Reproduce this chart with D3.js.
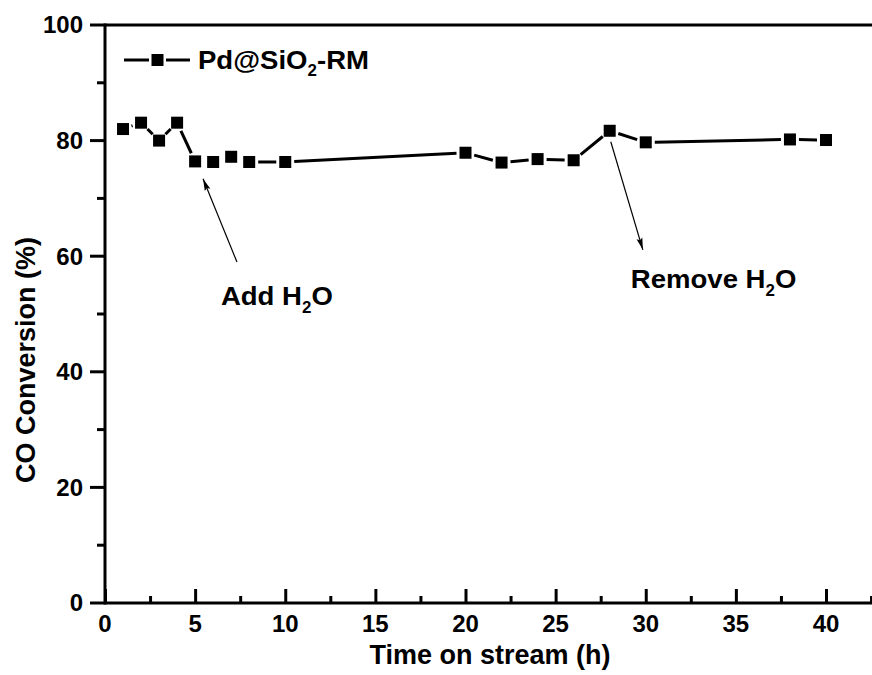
<!DOCTYPE html>
<html>
<head>
<meta charset="utf-8">
<script src="https://cdn.jsdelivr.net/npm/d3@7"></script>
<style>
  html, body { margin: 0; padding: 0; background: #fff; }
  svg { display: block; font-family: "Liberation Sans", Arial, sans-serif; font-weight: bold; }
</style>
</head>
<body>
<svg id="chart" width="872" height="675"></svg>
<script>
// ---- data ----
const seriesName = "Pd@SiO2-RM";
const timeH = [1, 2, 3, 4, 5, 6, 7, 8, 10, 20, 22, 24, 26, 28, 30, 38, 40];
const conversion = [82.0, 83.1, 80.0, 83.1, 76.4, 76.3, 77.2, 76.3, 76.3, 77.9, 76.2, 76.8, 76.6, 81.7, 79.7, 80.2, 80.1];
const xTicks = [0, 5, 10, 15, 20, 25, 30, 35, 40];
const yTicks = [0, 20, 40, 60, 80, 100];
const xTitle = "Time on stream (h)";
const yTitle = "CO Conversion (%)";
// annotations in data units
const annoTextAdd = { t: 6.43, v: 51.6, pre: "Add H", sub: "2", post: "O" };
const annoTextRemove = { t: 29.17, v: 54.5, pre: "Remove H", sub: "2", post: "O" };
const arrowAdd = { from: [7.32, 59.0], to: [5.44, 73.4] };
const arrowRemove = { from: [28.06, 79.8], to: [29.84, 61.1] };

// ---- layout ----
const svg = d3.select("#chart");
const x = d3.scaleLinear().domain([0, 45]).range([105, 105 + 45 * 18.025]);
const y = d3.scaleLinear().domain([0, 100]).range([603, 25]);

svg.append("defs").append("marker")
  .attr("id", "ah").attr("viewBox", "0 0 12 10").attr("refX", 12).attr("refY", 5)
  .attr("markerWidth", 12).attr("markerHeight", 10).attr("markerUnits", "userSpaceOnUse")
  .attr("orient", "auto")
  .append("path").attr("d", "M0,2 L12,5 L0,8 L2,5 Z").attr("fill", "#000");

// axes
const xAxis = d3.axisBottom(x).tickValues(d3.range(0, 45.1, 2.5))
  .tickSize(0).tickFormat("");
const gx = svg.append("g").attr("transform", `translate(0,${y(0)})`).call(xAxis);
gx.select(".domain").remove();
gx.selectAll(".tick line").remove();
gx.selectAll(".tick").append("line")
  .attr("y1", 0).attr("y2", d => (d % 5 === 0 ? -14 : -7))
  .attr("stroke", "#000").attr("stroke-width", 3);
svg.append("g").selectAll("text").data(xTicks).join("text")
  .attr("x", d => x(d)).attr("y", 632).attr("text-anchor", "middle")
  .attr("font-size", 24).text(d => d);

const gy = svg.append("g").attr("transform", `translate(${x(0)},0)`);
gy.selectAll("line.tk").data(d3.range(0, 100.1, 10)).join("line")
  .attr("class", "tk")
  .attr("x1", d => (d % 20 === 0 ? -15 : -8)).attr("x2", 0)
  .attr("y1", d => y(d)).attr("y2", d => y(d))
  .attr("stroke", "#000").attr("stroke-width", 3);
gy.selectAll("text").data(yTicks).join("text")
  .attr("x", -22).attr("y", d => y(d)).attr("dy", "0.35em")
  .attr("text-anchor", "end").attr("font-size", 24).text(d => d);

// frame lines
svg.append("line").attr("x1", x(0)).attr("x2", x(45)).attr("y1", y(0)).attr("y2", y(0))
  .attr("stroke", "#000").attr("stroke-width", 3);
svg.append("line").attr("x1", x(0)).attr("x2", x(45)).attr("y1", y(100)).attr("y2", y(100))
  .attr("stroke", "#000").attr("stroke-width", 3);
svg.append("line").attr("x1", x(0)).attr("x2", x(0)).attr("y1", y(0) + 1.5).attr("y2", y(100) - 1.5)
  .attr("stroke", "#000").attr("stroke-width", 3);

// titles
svg.append("text").attr("x", 490).attr("y", 664).attr("text-anchor", "middle")
  .attr("font-size", 27).text(xTitle);
svg.append("text").attr("transform", "translate(35,360) rotate(-90)")
  .attr("text-anchor", "middle").attr("font-size", 27).text(yTitle);

// data line with gaps around markers
const pts = timeH.map((t, i) => [x(t), y(conversion[i])]);
const gap = 9;
const segs = [];
for (let i = 0; i < pts.length - 1; i++) {
  const [x0, y0] = pts[i], [x1, y1] = pts[i + 1];
  const L = Math.hypot(x1 - x0, y1 - y0);
  if (L > 2 * gap + 1) {
    const ux = (x1 - x0) / L, uy = (y1 - y0) / L;
    segs.push([[x0 + ux * gap, y0 + uy * gap], [x1 - ux * gap, y1 - uy * gap]]);
  }
}
svg.append("g").selectAll("path").data(segs).join("path")
  .attr("d", d => d3.line()(d)).attr("stroke", "#000").attr("stroke-width", 3).attr("fill", "none");
const ms = 12;
svg.append("g").selectAll("rect").data(timeH).join("rect")
  .attr("x", (d, i) => x(d) - ms / 2).attr("y", (d, i) => y(conversion[i]) - ms / 2)
  .attr("width", ms).attr("height", ms).attr("fill", "#000");

// legend
const lg = svg.append("g").attr("transform", "translate(0,60)");
lg.append("line").attr("x1", 124).attr("x2", 149).attr("y1", 0).attr("y2", 0).attr("stroke", "#000").attr("stroke-width", 3);
lg.append("line").attr("x1", 166).attr("x2", 190).attr("y1", 0).attr("y2", 0).attr("stroke", "#000").attr("stroke-width", 3);
lg.append("rect").attr("x", 157.5 - ms / 2).attr("y", -ms / 2).attr("width", ms).attr("height", ms).attr("fill", "#000");
const lt = lg.append("text").attr("x", 198).attr("y", 9).attr("font-size", 26)
  .attr("transform", "translate(198,0) scale(1.06,1) translate(-198,0)");
lt.append("tspan").text("Pd@SiO");
lt.append("tspan").attr("font-size", 16).attr("dy", 7).text("2");
lt.append("tspan").attr("dy", -7).text("-RM");

// annotations
function annoText(a) {
  const x0 = x(a.t);
  const t = svg.append("text").attr("x", x0).attr("y", y(a.v)).attr("font-size", 26)
    .attr("transform", `translate(${x0},0) scale(1.06,1) translate(${-x0},0)`);
  t.append("tspan").text(a.pre);
  t.append("tspan").attr("font-size", 16).attr("dy", 8).text(a.sub);
  t.append("tspan").attr("dy", -8).text(a.post);
}
annoText(annoTextAdd);
annoText(annoTextRemove);
[arrowAdd, arrowRemove].forEach(a => {
  svg.append("line")
    .attr("x1", x(a.from[0])).attr("y1", y(a.from[1]))
    .attr("x2", x(a.to[0])).attr("y2", y(a.to[1]))
    .attr("stroke", "#000").attr("stroke-width", 1.2).attr("marker-end", "url(#ah)");
});
</script>
</body>
</html>
